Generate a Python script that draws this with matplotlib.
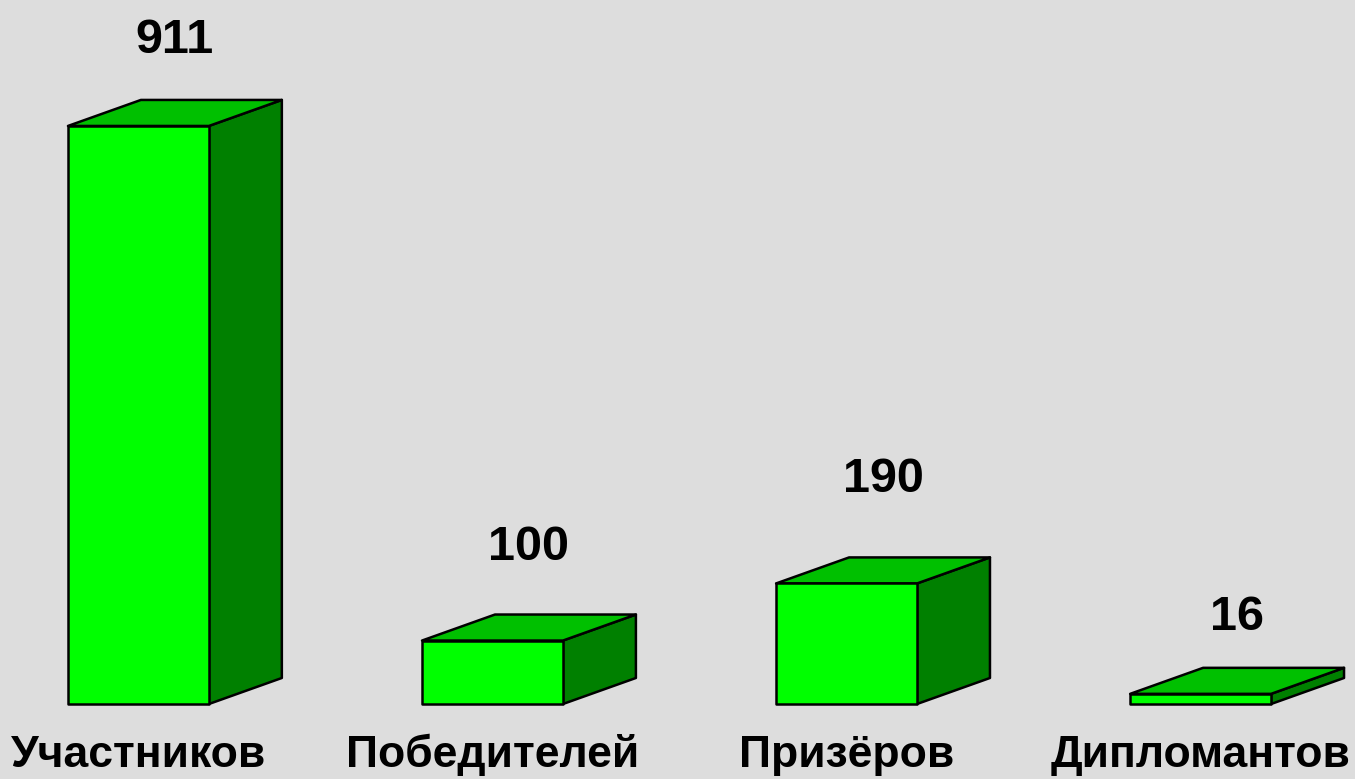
import matplotlib
matplotlib.use("Agg")
import matplotlib.pyplot as plt
from matplotlib.patches import Polygon

# Olympiad results
categories = ["Участников", "Победителей", "Призёров", "Дипломантов"]
values = [911, 100, 190, 16]

# layout (data units: x = category index, y = count)
BAR_W = 0.398          # front face width
DEPTH_X = 0.206        # 3D depth offset along x
DEPTH_Y = 41.0         # 3D depth offset along y
LABEL_PAD = [115, 127, 144, 101]   # gap between bar top and value-label baseline
NAME_BASELINE = -99

FRONT = "#00ff00"
TOP = "#00c000"
SIDE = "#008000"
BG = "#dddddd"

plt.rcParams["font.family"] = ["Liberation Sans", "DejaVu Sans"]

fig = plt.figure(figsize=(13.55, 7.79), dpi=100, facecolor=BG)
ax = fig.add_axes([0, 0, 1, 1])
ax.set_facecolor(BG)
ax.set_xlim(-0.391, 3.436)
ax.set_ylim(-118.2, 1109.5)
ax.axis("off")

for i, (name, v) in enumerate(zip(categories, values)):
    x0 = i - BAR_W / 2
    x1 = i + BAR_W / 2
    front = [(x0, 0), (x1, 0), (x1, v), (x0, v)]
    top = [(x0, v), (x1, v), (x1 + DEPTH_X, v + DEPTH_Y), (x0 + DEPTH_X, v + DEPTH_Y)]
    side = [(x1, 0), (x1 + DEPTH_X, DEPTH_Y), (x1 + DEPTH_X, v + DEPTH_Y), (x1, v)]
    for pts, col in ((side, SIDE), (top, TOP), (front, FRONT)):
        ax.add_patch(Polygon(pts, closed=True, facecolor=col, edgecolor="black",
                             linewidth=1.8, joinstyle="round"))
    ax.text(i + DEPTH_X / 2, v + LABEL_PAD[i], f"{v}", ha="center", va="baseline",
            fontsize=35, fontweight="bold", color="black")
    ax.text(i, NAME_BASELINE, name, ha="center", va="baseline",
            fontsize=32, fontweight="bold", color="black")

fig.savefig("out.png", dpi=100, facecolor=BG)
